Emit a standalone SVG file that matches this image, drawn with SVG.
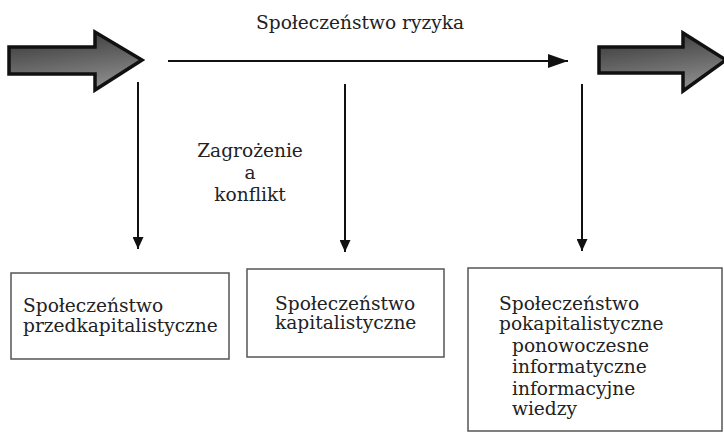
<svg xmlns="http://www.w3.org/2000/svg" width="724" height="434" viewBox="0 0 724 434">
<style>
text{font-family:"DejaVu Serif","Liberation Serif",serif;font-size:18.6px;fill:#222}
.box{fill:#fff;stroke:#555;stroke-width:1.5}
.ln{stroke:#111;stroke-width:2;fill:none}
.big{stroke:#111;stroke-width:3.5;stroke-linejoin:miter;fill:url(#g)}
</style>
<defs>
<linearGradient id="g" x1="0" y1="0" x2="0.3" y2="1">
<stop offset="0" stop-color="#333"/>
<stop offset="1" stop-color="#888"/>
</linearGradient>
<marker id="ah" viewBox="0 0 12 11" refX="12" refY="5.5" markerWidth="6" markerHeight="5.5" markerUnits="strokeWidth" orient="auto">
<path d="M0,0 L12,5.5 L0,11 z" fill="#111"/>
</marker>
<marker id="ahl" viewBox="0 0 20 14" refX="20" refY="7" markerWidth="10" markerHeight="7" markerUnits="strokeWidth" orient="auto">
<path d="M0,0 L20,7 L0,14 z" fill="#111"/>
</marker>
</defs>
<g id="arrow-left"><path class="big" d="M9,47 L95,47 L95,32 L142,60 L95,90 L95,74 L9,74 Z"/></g>
<g id="arrow-right"><path class="big" d="M599,47 L683,47 L683,33 L726,60 L683,91 L683,73 L599,73 Z"/></g>
<g id="title"><text x="256" y="29">Społeczeństwo ryzyka</text></g>
<g id="label-threat"><text text-anchor="middle" x="250" y="157">Zagrożenie</text><text text-anchor="middle" x="250" y="179">a</text><text text-anchor="middle" x="250" y="201">konflikt</text></g>
<g id="connectors">
<line class="ln" x1="168" y1="61" x2="568" y2="61" marker-end="url(#ahl)"/>
<line class="ln" x1="138" y1="82" x2="138" y2="249" marker-end="url(#ah)"/>
<line class="ln" x1="345" y1="84" x2="345" y2="252" marker-end="url(#ah)"/>
<line class="ln" x1="582" y1="84" x2="582" y2="251" marker-end="url(#ah)"/>
</g>
<g id="box1"><rect class="box" x="11" y="273" width="218" height="86"/><text x="23" y="312">Społeczeństwo</text><text x="23" y="332">przedkapitalistyczne</text></g>
<g id="box2"><rect class="box" x="247" y="269" width="197" height="88"/><text x="275" y="310">Społeczeństwo</text><text x="275" y="329">kapitalistyczne</text></g>
<g id="box3"><rect class="box" x="468" y="268" width="254" height="163"/><text x="499" y="310">Społeczeństwo</text><text x="499" y="330">pokapitalistyczne</text><text x="512" y="352">ponowoczesne</text><text x="512" y="373">informatyczne</text><text x="512" y="395">informacyjne</text><text x="512" y="415">wiedzy</text></g>
</svg>
